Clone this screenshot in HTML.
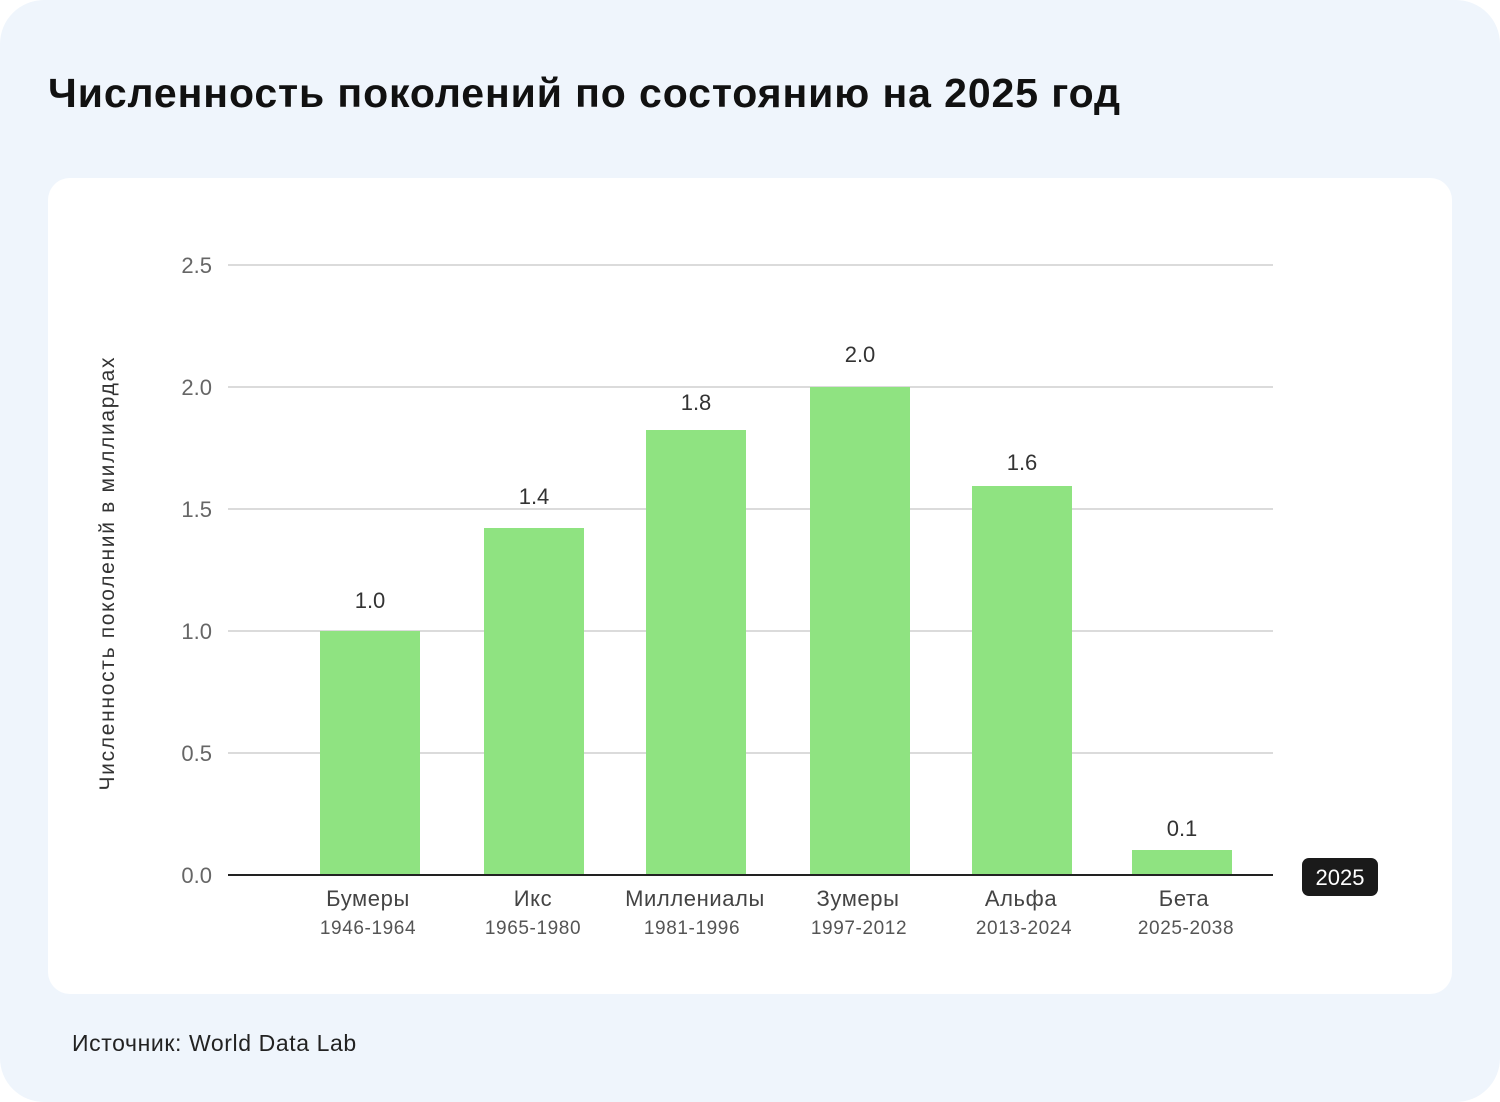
<!DOCTYPE html>
<html><head><meta charset="utf-8"><style>
html,body{margin:0;padding:0;background:#fff;}
body{width:1500px;height:1102px;position:relative;overflow:hidden;font-family:"Liberation Sans","DejaVu Sans",sans-serif;}
.bg{position:absolute;left:0;top:0;width:1500px;height:1102px;background:#eff5fc;border-radius:44px;}
.title{position:absolute;left:48px;top:70px;font-size:41px;font-weight:bold;color:#111;letter-spacing:0.9px;}
.card{position:absolute;left:48px;top:178px;width:1404px;height:816px;background:#fff;border-radius:22px;}
.src{position:absolute;left:72px;top:1030px;font-size:23px;color:#222;letter-spacing:0.6px;}
</style></head><body>
<div class="bg"></div>
<div class="title">Численность поколений по состоянию на 2025 год</div>
<div class="card"></div>
<svg style="position:absolute;left:0;top:0" width="1500" height="1102" font-family="Liberation Sans, DejaVu Sans, sans-serif">
<g stroke="#cfcfcf" stroke-width="1.5">
<line x1="228" x2="1273" y1="265" y2="265"/>
<line x1="228" x2="1273" y1="387" y2="387"/>
<line x1="228" x2="1273" y1="509" y2="509"/>
<line x1="228" x2="1273" y1="631" y2="631"/>
<line x1="228" x2="1273" y1="753" y2="753"/>
</g>
<g fill="#666" font-size="22" text-anchor="end">
<text x="212" y="273">2.5</text><text x="212" y="395">2.0</text><text x="212" y="517">1.5</text>
<text x="212" y="639">1.0</text><text x="212" y="761">0.5</text><text x="212" y="883">0.0</text>
</g>
<g fill="#8fe381">
<rect x="320" y="631" width="100" height="244"/>
<rect x="484" y="528" width="100" height="347"/>
<rect x="646" y="430" width="100" height="445"/>
<rect x="810" y="387" width="100" height="488"/>
<rect x="972" y="486" width="100" height="389"/>
<rect x="1132" y="850" width="100" height="25"/>
</g>
<line x1="228" x2="1273" y1="875" y2="875" stroke="#222" stroke-width="2"/>
<g fill="#333" font-size="22" text-anchor="middle">
<text x="370" y="608">1.0</text><text x="534" y="504">1.4</text><text x="696" y="410">1.8</text>
<text x="860" y="362">2.0</text><text x="1022" y="470">1.6</text><text x="1182" y="836">0.1</text>
</g>
<g fill="#444" font-size="22" text-anchor="middle" letter-spacing="0.6">
<text x="368" y="906">Бумеры</text><text x="533" y="906">Икс</text><text x="695" y="906">Миллениалы</text>
<text x="858" y="906">Зумеры</text><text x="1021" y="906">Альфа</text><text x="1184" y="906">Бета</text>
</g>
<g fill="#555" font-size="19" text-anchor="middle" letter-spacing="0.6">
<text x="368" y="934">1946-1964</text><text x="533" y="934">1965-1980</text><text x="692" y="934">1981-1996</text>
<text x="859" y="934">1997-2012</text><text x="1024" y="934">2013-2024</text><text x="1186" y="934">2025-2038</text>
</g>
<rect x="1302" y="858" width="76" height="38" rx="7" fill="#1a1a1a"/>
<text x="1340" y="885" fill="#fff" font-size="22" text-anchor="middle">2025</text>
<text transform="translate(114,574) rotate(-90)" fill="#333" font-size="21" text-anchor="middle" textLength="433" lengthAdjust="spacing">Численность поколений в миллиардах</text>
</svg>
<div class="src">Источник: World Data Lab</div>
</body></html>
